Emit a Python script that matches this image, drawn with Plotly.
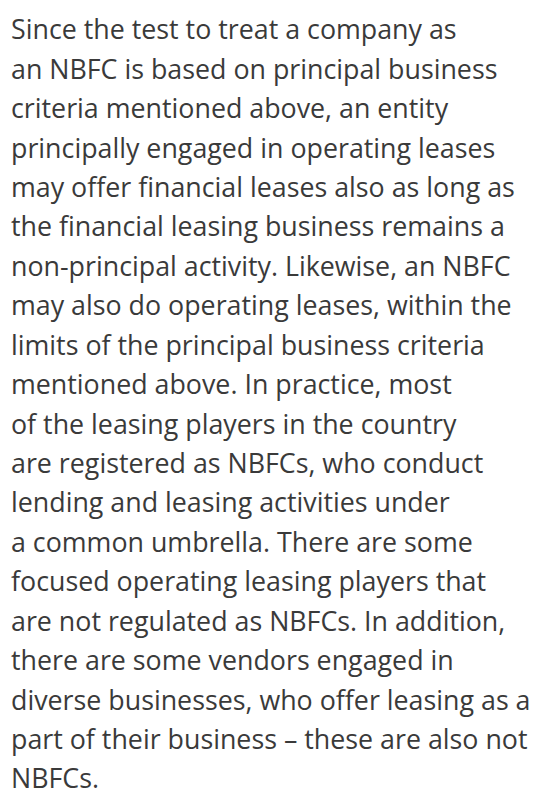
import plotly.graph_objects as go

lines = [
    "Since the test to treat a company as",
    "an NBFC is based on principal business",
    "criteria mentioned above, an entity",
    "principally engaged in operating leases",
    "may oﬀer financial leases also as long as",
    "the financial leasing business remains a",
    "non-principal activity. Likewise, an NBFC",
    "may also do operating leases, within the",
    "limits of the principal business criteria",
    "mentioned above. In practice, most",
    "of the leasing players in the country",
    "are registered as NBFCs, who conduct",
    "lending and leasing activities under",
    "a common umbrella. There are some",
    "focused operating leasing players that",
    "are not regulated as NBFCs. In addition,",
    "there are some vendors engaged in",
    "diverse businesses, who oﬀer leasing as a",
    "part of their business – these are also not",
    "NBFCs.",
]
line_index = list(range(len(lines)))

fig = go.Figure(go.Scatter(
    x=[0] * len(lines),
    y=line_index,
    mode="text",
    text=lines,
    textposition="middle right",
    textfont=dict(family="Open Sans", size=26.8, color="#3a3a3a"),
    hoverinfo="skip",
    cliponaxis=False,
))
fig.update_layout(
    width=539, height=796,
    margin=dict(l=0, r=0, t=0, b=0),
    paper_bgcolor="white", plot_bgcolor="white",
    showlegend=False,
    xaxis=dict(range=[-3, 536], visible=False, fixedrange=True),
    yaxis=dict(range=[19.564, -0.6239], visible=False, fixedrange=True),
)
fig.write_html("out.html")
